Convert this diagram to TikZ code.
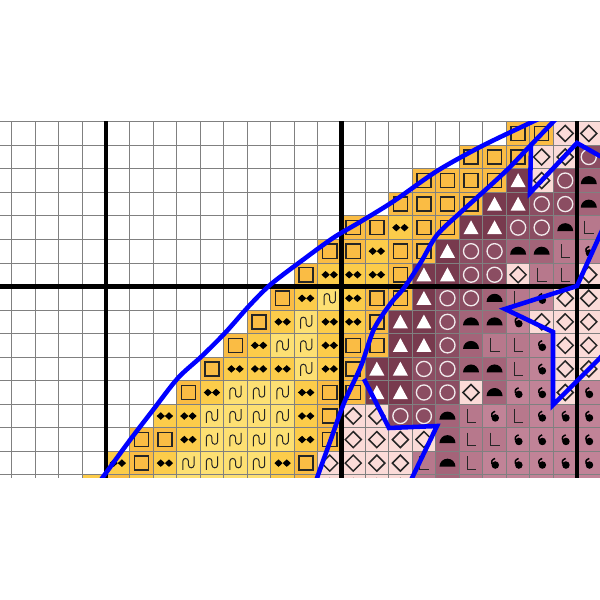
\documentclass[tikz,border=0pt]{standalone}
\usepackage{tikz}

% thread colours
\definecolor{cSq}{RGB}{250,188,68}
\definecolor{cDd}{RGB}{252,204,74}
\definecolor{cWv}{RGB}{253,224,115}
\definecolor{cTr}{RGB}{120,58,78}
\definecolor{cCi}{RGB}{139,77,98}
\definecolor{cHd}{RGB}{164,100,121}
\definecolor{cEl}{RGB}{183,120,140}
\definecolor{cDr}{RGB}{193,131,151}
\definecolor{cDi}{RGB}{251,219,216}

% one stitch: column, row, kind
\newcommand\stitch[3]{%
  \begin{scope}[shift={(#1+.5,#2+.5)}]\csname st#3\endcsname\end{scope}}
\newcommand\stbg[1]{\fill[#1] (-.5,-.5) rectangle (.5,.5);}
\newcommand\stsq{\stbg{cSq}\draw[sym] (-.3,-.3) rectangle (.3,.3);}
\newcommand\stdd{\stbg{cDd}%
  \fill (-.35,0) -- (-.175,-.16) -- (0,0) -- (-.175,.16) -- cycle;
  \fill (0,0) -- (.175,-.16) -- (.35,0) -- (.175,.16) -- cycle;}
\newcommand\stwv{\stbg{cWv}\draw[fine] (-.24,.29) -- (-.24,-.08)
  arc[start angle=180,end angle=360,radius=.12] -- (0,.08)
  arc[start angle=180,end angle=0,radius=.12] -- (.24,-.29);}
\newcommand\sttr{\stbg{cTr}\fill[white] (0,-.31) -- (.32,.28) -- (-.32,.28) -- cycle;}
\newcommand\stci{\stbg{cCi}\draw[white!88!cCi,line width=1.6pt] (0,0) circle[radius=.32];}
\newcommand\sthd{\stbg{cHd}\fill (-.34,.15) arc[start angle=180,end angle=360,radius=.34] -- cycle;}
\newcommand\stel{\stbg{cEl}\draw[fine] (-.17,-.3) -- (-.17,.27) -- (.22,.27);}
\newcommand\stdr{\stbg{cDr}\fill (.03,.08) circle[radius=.16];
  \draw[line width=1.8pt] (-.11,.04) .. controls (-.13,-.12) .. (.02,-.2);}
\newcommand\stdi{\stbg{cDi}\draw[sym] (0,-.34) -- (.34,0) -- (0,.34) -- (-.34,0) -- cycle;}

\begin{document}
\begin{tikzpicture}[x=1cm,y=-1cm,
  sym/.style={draw=black!85,line width=1.8pt},
  fine/.style={draw=black!85,line width=1.2pt},
  gridln/.style={draw=black!50,line width=1.1pt},
  major/.style={draw=black,line width=5.2pt},
  outline/.style={draw=blue,line width=5.5pt}]
\useasboundingbox (-0.501,-5.166) rectangle (24.977,20.312);
\fill[white] (-0.501,-5.166) rectangle (24.977,20.312);
\begin{scope}
\clip (-0.501,0) rectangle (24.977,15.13);
% stitches, row by row
\foreach \c/\s in {21/sq,22/sq,23/di,24/di} {\stitch{\c}{0}{\s}}
\foreach \c/\s in {19/sq,20/sq,21/sq,22/di,23/di,24/ci} {\stitch{\c}{1}{\s}}
\foreach \c/\s in {17/sq,18/sq,19/sq,20/sq,21/tr,22/di,23/ci,24/hd} {\stitch{\c}{2}{\s}}
\foreach \c/\s in {16/sq,17/sq,18/sq,19/sq,20/tr,21/tr,22/ci,23/ci,24/hd} {\stitch{\c}{3}{\s}}
\foreach \c/\s in {14/sq,15/sq,16/dd,17/sq,18/sq,19/tr,20/tr,21/ci,22/ci,23/hd,24/el} {\stitch{\c}{4}{\s}}
\foreach \c/\s in {13/sq,14/sq,15/dd,16/sq,17/sq,18/tr,19/ci,20/ci,21/hd,22/hd,23/el,24/dr} {\stitch{\c}{5}{\s}}
\foreach \c/\s in {12/sq,13/dd,14/dd,15/dd,16/sq,17/tr,18/tr,19/ci,20/ci,21/di,22/el,23/el,24/di} {\stitch{\c}{6}{\s}}
\foreach \c/\s in {11/sq,12/dd,13/wv,14/dd,15/sq,16/sq,17/tr,18/ci,19/ci,20/hd,21/el,22/dr,23/di,24/di} {\stitch{\c}{7}{\s}}
\foreach \c/\s in {10/sq,11/dd,12/wv,13/dd,14/dd,15/sq,16/tr,17/tr,18/ci,19/hd,20/hd,21/dr,22/di,23/di,24/di} {\stitch{\c}{8}{\s}}
\foreach \c/\s in {9/sq,10/dd,11/wv,12/wv,13/dd,14/sq,15/sq,16/tr,17/tr,18/ci,19/hd,20/el,21/el,22/dr,23/di,24/di} {\stitch{\c}{9}{\s}}
\foreach \c/\s in {8/sq,9/dd,10/dd,11/dd,12/wv,13/dd,14/sq,15/tr,16/tr,17/ci,18/ci,19/hd,20/hd,21/el,22/dr,23/di,24/di} {\stitch{\c}{10}{\s}}
\foreach \c/\s in {7/sq,8/dd,9/wv,10/wv,11/wv,12/dd,13/sq,14/sq,15/tr,16/tr,17/ci,18/ci,19/di,20/hd,21/dr,22/dr,23/di,24/dr} {\stitch{\c}{11}{\s}}
\foreach \c/\s in {6/dd,7/dd,8/wv,9/wv,10/wv,11/wv,12/dd,13/sq,14/di,15/di,16/ci,17/ci,18/hd,19/el,20/dr,21/el,22/dr,23/dr,24/dr} {\stitch{\c}{12}{\s}}
\foreach \c/\s in {5/sq,6/sq,7/dd,8/wv,9/wv,10/wv,11/wv,12/dd,13/sq,14/di,15/di,16/di,17/di,18/hd,19/el,20/el,21/dr,22/dr,23/dr,24/dr} {\stitch{\c}{13}{\s}}
\foreach \c/\s in {4/dd,5/sq,6/dd,7/wv,8/wv,9/wv,10/wv,11/dd,12/sq,13/di,14/di,15/di,16/di,17/el,18/hd,19/el,20/dr,21/dr,22/dr,23/dr,24/dr} {\stitch{\c}{14}{\s}}
\foreach \c/\s in {3/dd,4/sq,5/dd,6/wv,7/wv,8/wv,9/wv,10/wv,11/dd,12/sq,13/di,14/di,15/di,16/di,17/el,18/hd,19/el,20/dr,21/dr,22/dr,23/dr,24/dr} {\stitch{\c}{15}{\s}}
% grid
\foreach \c in {0,...,25} \draw[gridln] (\c,-0.2) -- (\c,15.4);
\foreach \r in {0,...,15} \draw[gridln] (-0.6,\r) -- (25.1,\r);
\foreach \c in {4,14,24} \draw[major] (\c,-0.2) -- (\c,15.4);
\draw[major] (-0.6,7) -- (25.1,7);
% region outlines
\draw[outline] plot[smooth,tension=.5] coordinates {(3.108,16.150) (3.873,15.089)
  (5.020,13.518) (5.996,12.244) (7.057,10.885) (8.076,9.951) (9.053,8.975)
  (10.072,7.828) (10.964,6.936) (12.238,5.960) (13.639,4.941) (14.786,4.261)
  (16.229,3.370) (18.055,2.096) (19.966,1.034) (22.089,0.015) (23.703,-0.750)};
\draw[outline] plot[smooth,tension=.5] coordinates {(12.662,16.066) (12.960,15.132)
  (13.554,13.476) (14.106,11.947) (14.828,10.376) (15.380,8.805) (16.102,7.701)
  (16.654,7.064) (17.376,5.960) (18.055,4.813) (19.074,3.837) (19.966,3.030)
  (21.027,2.053) (22.004,1.034) (22.981,0.015) (23.915,-0.962)};
\draw[outline] (22.046,1.034) -- (22.004,3.030) -- (23.999,0.907) -- (24.976,1.459) -- (26.037,2.053);
\draw[outline] (25.401,3.880) -- (24.976,4.813) -- (23.999,6.979) -- (20.942,7.955)
  -- (22.981,8.932) -- (22.981,12.032) -- (24.976,10.036) -- (25.825,9.144);
\draw[outline] (14.955,10.928) -- (16.017,13.008) -- (18.055,12.924) -- (16.994,15.132) -- (16.569,16.066);
\end{scope}
\end{tikzpicture}
\end{document}
